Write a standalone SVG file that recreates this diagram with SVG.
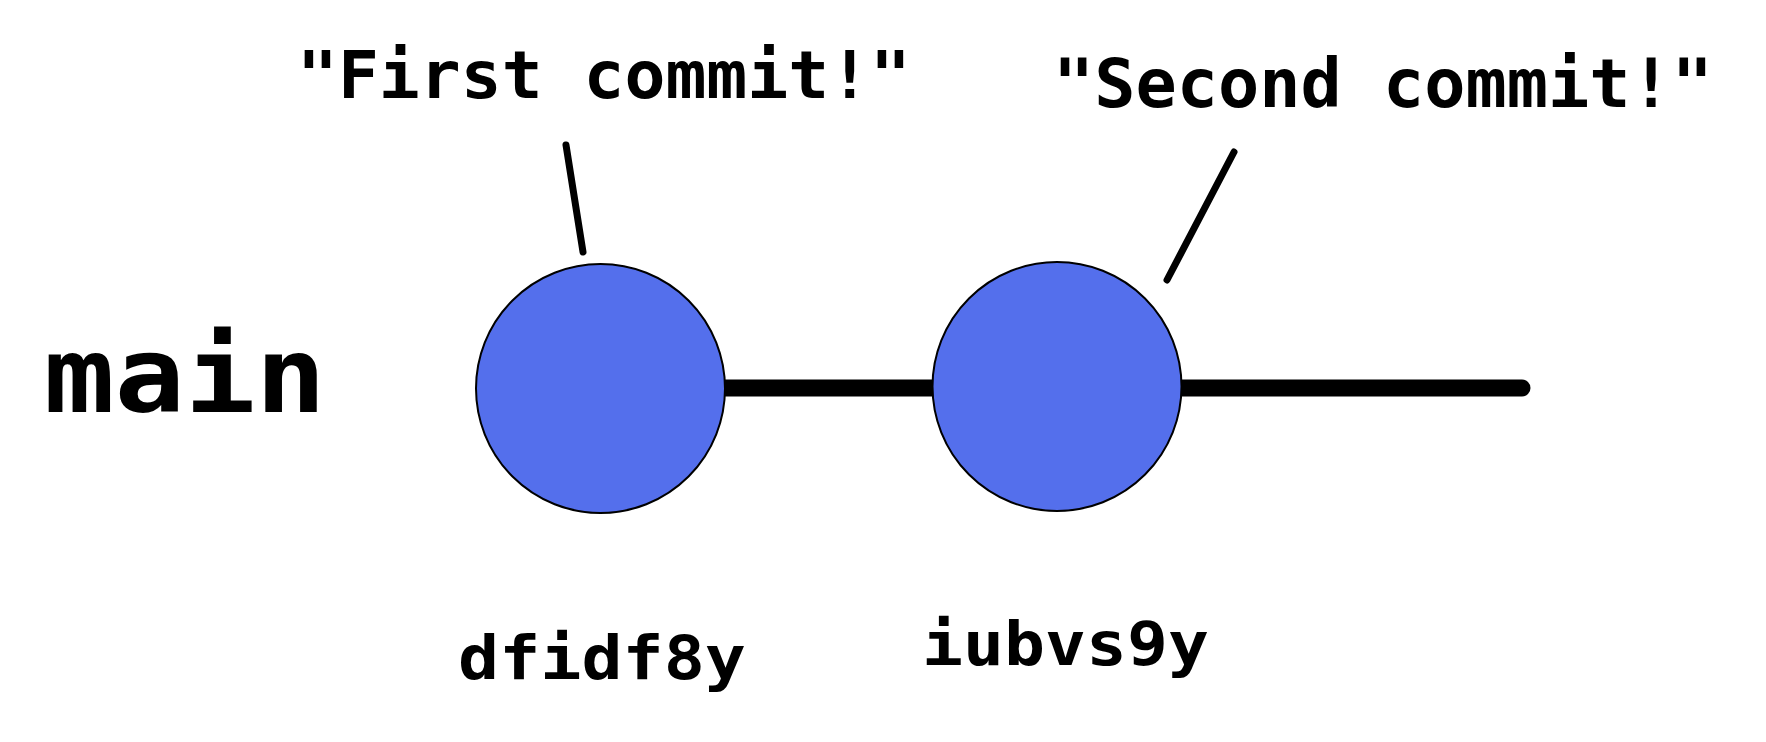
<svg xmlns="http://www.w3.org/2000/svg" width="1766" height="742" viewBox="0 0 1766 742">
  <style>
    .commit { fill: #546FEC; stroke: #000000; stroke-width: 2; }
    .branch { stroke: #000000; stroke-width: 17; stroke-linecap: round; fill: none; }
    .pointer { stroke: #000000; stroke-width: 7; stroke-linecap: round; fill: none; }
    .t { font-family: "DejaVu Sans Mono", "Liberation Mono", monospace; font-weight: bold; fill: #000000; }
  </style>
  <rect width="1766" height="742" fill="#ffffff"/>
  <g id="connectors">
    <line class="branch" x1="600" y1="388" x2="1522" y2="388"/>
    <line class="pointer" x1="566" y1="145" x2="583" y2="252"/>
    <line class="pointer" x1="1234" y1="152" x2="1167" y2="280"/>
  </g>
  <g id="branch-main">
    <text class="t" x="44" y="412" font-size="106" textLength="282" lengthAdjust="spacingAndGlyphs">main</text>
  </g>
  <g id="commit-1">
    <circle class="commit" cx="600.5" cy="388.5" r="124.5"/>
    <text class="t" x="458" y="679" font-size="60" textLength="288" lengthAdjust="spacingAndGlyphs">dfidf8y</text>
    <text class="t" x="297" y="98" font-size="66" textLength="614" lengthAdjust="spacingAndGlyphs">"First commit!"</text>
  </g>
  <g id="commit-2">
    <circle class="commit" cx="1057" cy="386.5" r="124.5"/>
    <text class="t" x="922" y="665" font-size="60" textLength="287" lengthAdjust="spacingAndGlyphs">iubvs9y</text>
    <text class="t" x="1053" y="107" font-size="67" textLength="660" lengthAdjust="spacingAndGlyphs">"Second commit!"</text>
  </g>
</svg>
